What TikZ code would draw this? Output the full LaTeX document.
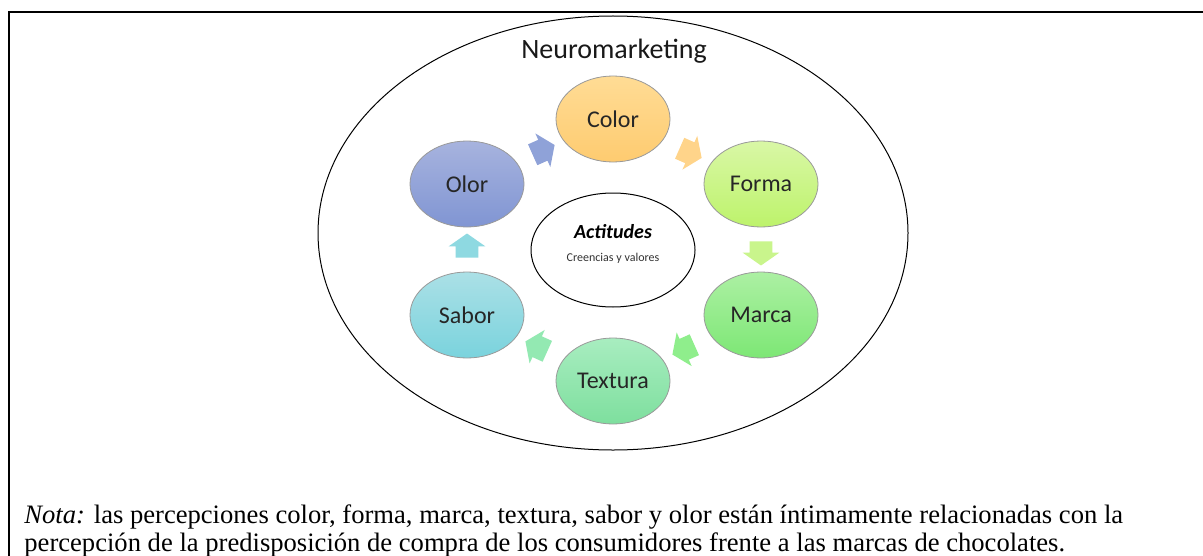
\documentclass[tikz,border=0pt]{standalone}
\usepackage{fontspec}
\setmainfont{Liberation Serif}
\newfontfamily\calfont{Carlito}
\usetikzlibrary{shapes.geometric,shapes.arrows}
\definecolor{coltop}{HTML}{FFDC95}\definecolor{colbot}{HTML}{FECB70}
\definecolor{fortop}{HTML}{D9F7A6}\definecolor{forbot}{HTML}{BDF36B}
\definecolor{martop}{HTML}{ACF0A3}\definecolor{marbot}{HTML}{7DE775}
\definecolor{textop}{HTML}{A8EDC0}\definecolor{texbot}{HTML}{7EDF9E}
\definecolor{sabtop}{HTML}{ABE0E6}\definecolor{sabbot}{HTML}{7AD3DD}
\definecolor{olotop}{HTML}{A7B3DE}\definecolor{olobot}{HTML}{8095D3}
\definecolor{arA}{HTML}{8FA2D8}\definecolor{arB}{HTML}{FFD48A}
\definecolor{arC}{HTML}{C9F58C}\definecolor{arD}{HTML}{8FEE8C}
\definecolor{arE}{HTML}{93E9B2}\definecolor{arF}{HTML}{8ED9E1}
\tikzset{
  bubble/.style={ellipse, draw=black!40, line width=0.4pt, minimum width=57pt, minimum height=43pt, inner sep=0pt,
    font=\calfont\fontsize{12}{14}\selectfont, text=black!85},
  blockarrow/.style={single arrow, draw=none, minimum height=12pt, inner xsep=0pt, inner ysep=5.5pt,
    single arrow head extend=3.5pt, single arrow tip angle=110, sloped, allow upside down, midway},
  captext/.style={anchor=base west, inner sep=0pt, font=\fontsize{13.3}{15}\selectfont}
}
\begin{document}
\begin{tikzpicture}[x=0.5pt,y=-0.5pt]
\useasboundingbox (0,0) rectangle (1203,556);
\fill[white] (0,0) rectangle (1203,556);
% frame
\draw[line width=1pt] (9,556) -- (9,12) -- (1203,12);
% outer ellipse
\node[ellipse, draw, line width=0.5pt, minimum width=295pt, minimum height=217pt] (outer) at (613,233) {};
\node[font=\calfont\fontsize{14}{16}\selectfont, text=black!90] (title) at (614,51) {Neuromarketing};
% center
\node[ellipse, draw, line width=0.5pt, fill=white, minimum width=82pt, minimum height=57pt] (center) at (613,250) {};
\node[font=\calfont\fontsize{10}{12}\selectfont\bfseries\itshape] (act) at (613,232) {Actitudes};
\node[font=\calfont\fontsize{6}{7}\selectfont, text=black!80] (cyv) at (613,258) {Creencias y valores};
% bubbles
\node[bubble, top color=coltop, bottom color=colbot] (color) at (613,119) {Color};
\node[bubble, top color=fortop, bottom color=forbot] (forma) at (761,184) {Forma};
\node[bubble, top color=martop, bottom color=marbot] (marca) at (761,315) {Marca};
\node[bubble, top color=textop, bottom color=texbot] (textura) at (613,381) {Textura};
\node[bubble, top color=sabtop, bottom color=sabbot] (sabor) at (467,315) {Sabor};
\node[bubble, top color=olotop, bottom color=olobot] (olor) at (467,184) {Olor};
% arrows
\path (olor) -- (color) node[blockarrow, fill=arA] (a1) {};
\path (color) -- (forma) node[blockarrow, fill=arB] (a2) {};
\path (forma) -- (marca) node[blockarrow, fill=arC] (a3) {};
\path (marca) -- (textura) node[blockarrow, fill=arD] (a4) {};
\path (textura) -- (sabor) node[blockarrow, fill=arE] (a5) {};
\path (sabor) -- (olor) node[blockarrow, fill=arF] (a6) {};
% caption
\node[captext] (cap1) at (24,523) {\textit{Nota:} las percepciones color, forma, marca, textura, sabor y olor están íntimamente relacionadas con la};
\node[captext] (cap2) at (24,551) {percepción de la predisposición de compra de los consumidores frente a las marcas de chocolates.};
\end{tikzpicture}
\end{document}
